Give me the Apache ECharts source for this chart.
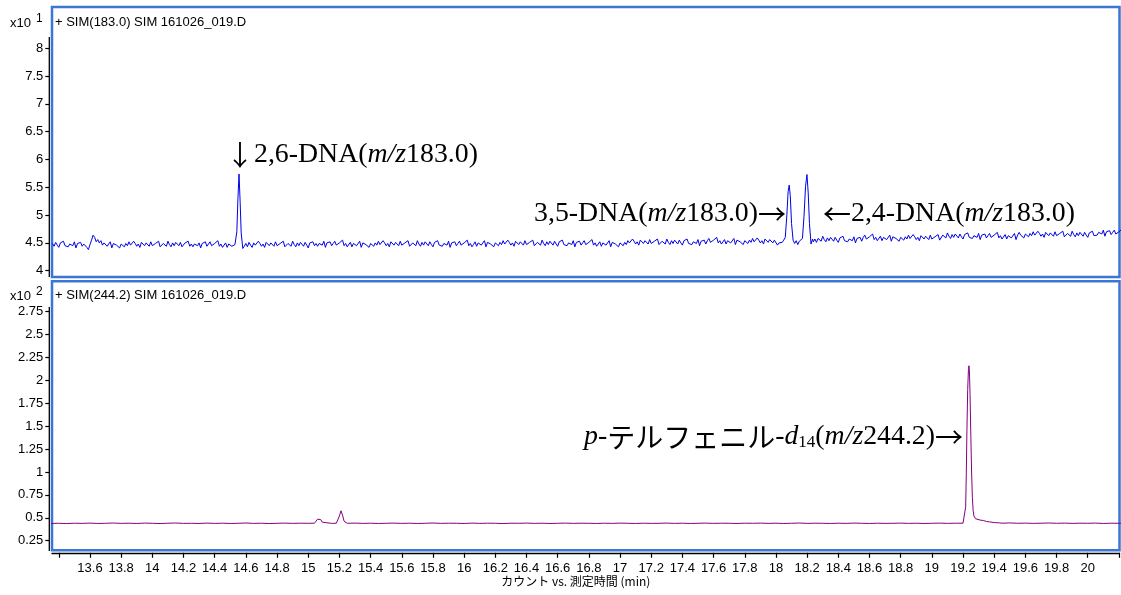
<!DOCTYPE html>
<html>
<head>
<meta charset="utf-8">
<script src="https://cdn.jsdelivr.net/npm/echarts@6/dist/echarts.min.js"></script>
<style>
  html, body { margin: 0; padding: 0; background: #ffffff; }
  #chart { width: 1121px; height: 595px; }
</style>
</head>
<body>
<div id="chart"></div>
<script>
// SIM m/z 183.0 trace: sampled every 0.01 min starting at 13.36 min (counts x10^1)
const sim183Start = 13.36;
const sim183Step = 0.01;
const sim183Base = [
  4.49, 4.44, 4.51, 4.46, 4.42, 4.50, 4.47, 4.53, 4.45, 4.48,
  4.43, 4.48, 4.50, 4.45, 4.52, 4.41, 4.49, 4.46, 4.51, 4.44,
  4.48, 4.45, 4.42, 4.38, 4.47, 4.55, 4.64, 4.60, 4.52, 4.56,
  4.50, 4.54, 4.46, 4.50, 4.51, 4.44, 4.46, 4.52, 4.41, 4.49,
  4.51, 4.46, 4.49, 4.41, 4.48, 4.50, 4.43, 4.49, 4.45, 4.52,
  4.46, 4.43, 4.53, 4.49, 4.44, 4.48, 4.42, 4.51, 4.48, 4.45,
  4.50, 4.48, 4.44, 4.52, 4.45, 4.42, 4.49, 4.46, 4.53, 4.43,
  4.42, 4.49, 4.48, 4.44, 4.53, 4.47, 4.43, 4.50, 4.45, 4.51,
  4.49, 4.45, 4.51, 4.43, 4.42, 4.50, 4.48, 4.53, 4.44, 4.48,
  4.43, 4.48, 4.51, 4.45, 4.50, 4.41, 4.49, 4.47, 4.52, 4.44,
  4.48, 4.52, 4.45, 4.43, 4.49, 4.46, 4.54, 4.44, 4.48, 4.42,
  4.45, 4.50, 4.42, 4.48, 4.51, 4.44, 4.46, 4.47, 4.47, 4.47,
  4.47, 4.47, 4.47, 4.44, 4.49, 4.43, 4.51, 4.46, 4.42, 4.50,
  4.46, 4.43, 4.53, 4.49, 4.44, 4.48, 4.42, 4.51, 4.48, 4.45,
  4.50, 4.48, 4.44, 4.52, 4.45, 4.42, 4.49, 4.46, 4.53, 4.43,
  4.42, 4.49, 4.48, 4.44, 4.53, 4.47, 4.43, 4.50, 4.45, 4.51,
  4.48, 4.44, 4.51, 4.46, 4.41, 4.50, 4.47, 4.52, 4.45, 4.49,
  4.44, 4.49, 4.51, 4.46, 4.53, 4.42, 4.50, 4.47, 4.52, 4.45,
  4.49, 4.53, 4.46, 4.44, 4.50, 4.47, 4.55, 4.45, 4.49, 4.43,
  4.46, 4.51, 4.43, 4.49, 4.52, 4.45, 4.47, 4.53, 4.42, 4.50,
  4.52, 4.47, 4.50, 4.42, 4.49, 4.51, 4.44, 4.50, 4.46, 4.53,
  4.47, 4.44, 4.54, 4.50, 4.45, 4.49, 4.43, 4.52, 4.49, 4.46,
  4.51, 4.49, 4.45, 4.53, 4.46, 4.43, 4.50, 4.47, 4.54, 4.44,
  4.43, 4.50, 4.49, 4.45, 4.54, 4.48, 4.44, 4.51, 4.46, 4.52,
  4.50, 4.45, 4.52, 4.47, 4.43, 4.51, 4.48, 4.54, 4.46, 4.49,
  4.44, 4.49, 4.51, 4.46, 4.53, 4.42, 4.50, 4.47, 4.52, 4.45,
  4.49, 4.53, 4.46, 4.44, 4.50, 4.47, 4.55, 4.45, 4.49, 4.43,
  4.47, 4.52, 4.44, 4.50, 4.53, 4.46, 4.48, 4.54, 4.43, 4.51,
  4.53, 4.48, 4.51, 4.43, 4.50, 4.52, 4.45, 4.51, 4.47, 4.54,
  4.48, 4.45, 4.55, 4.51, 4.46, 4.50, 4.44, 4.53, 4.50, 4.47,
  4.52, 4.50, 4.46, 4.54, 4.47, 4.44, 4.51, 4.48, 4.55, 4.45,
  4.44, 4.51, 4.50, 4.46, 4.55, 4.49, 4.45, 4.52, 4.47, 4.53,
  4.51, 4.46, 4.53, 4.48, 4.44, 4.52, 4.49, 4.55, 4.47, 4.50,
  4.45, 4.50, 4.52, 4.47, 4.54, 4.43, 4.51, 4.48, 4.53, 4.46,
  4.50, 4.54, 4.47, 4.45, 4.51, 4.48, 4.56, 4.46, 4.50, 4.44,
  4.47, 4.52, 4.44, 4.50, 4.53, 4.46, 4.48, 4.54, 4.43, 4.51,
  4.53, 4.48, 4.51, 4.43, 4.50, 4.52, 4.45, 4.51, 4.47, 4.54,
  4.50, 4.47, 4.57, 4.53, 4.48, 4.52, 4.46, 4.55, 4.52, 4.49,
  4.54, 4.52, 4.48, 4.56, 4.49, 4.46, 4.53, 4.50, 4.57, 4.47,
  4.46, 4.53, 4.52, 4.48, 4.57, 4.51, 4.47, 4.54, 4.49, 4.55,
  4.53, 4.48, 4.55, 4.50, 4.46, 4.54, 4.51, 4.57, 4.49, 4.52,
  4.47, 4.52, 4.54, 4.49, 4.56, 4.45, 4.53, 4.50, 4.55, 4.48,
  4.54, 4.58, 4.51, 4.49, 4.55, 4.52, 4.60, 4.50, 4.54, 4.48,
  4.51, 4.56, 4.48, 4.54, 4.57, 4.50, 4.52, 4.58, 4.47, 4.55,
  4.57, 4.52, 4.55, 4.47, 4.54, 4.56, 4.49, 4.55, 4.51, 4.58,
  4.52, 4.49, 4.59, 4.55, 4.50, 4.54, 4.48, 4.57, 4.54, 4.51,
  4.56, 4.54, 4.50, 4.55, 4.52, 4.46, 4.50, 4.53, 4.51, 4.55,
  4.55, 4.55, 4.55, 4.55, 4.55, 4.55, 4.55, 4.55, 4.55, 4.55,
  4.55, 4.55, 4.55, 4.55, 4.55, 4.55, 4.55, 4.55, 4.52, 4.57,
  4.51, 4.58, 4.57, 4.53, 4.62, 4.56, 4.52, 4.59, 4.54, 4.60,
  4.58, 4.53, 4.60, 4.55, 4.51, 4.59, 4.56, 4.62, 4.54, 4.57,
  4.52, 4.57, 4.59, 4.54, 4.61, 4.50, 4.58, 4.55, 4.60, 4.53,
  4.60, 4.64, 4.57, 4.55, 4.61, 4.58, 4.66, 4.56, 4.60, 4.54,
  4.57, 4.62, 4.54, 4.60, 4.63, 4.56, 4.58, 4.64, 4.53, 4.61,
  4.63, 4.58, 4.61, 4.53, 4.60, 4.62, 4.55, 4.61, 4.57, 4.64,
  4.58, 4.55, 4.65, 4.61, 4.56, 4.60, 4.54, 4.63, 4.60, 4.57,
  4.62, 4.60, 4.56, 4.64, 4.57, 4.54, 4.61, 4.58, 4.65, 4.55,
  4.57, 4.64, 4.63, 4.59, 4.68, 4.62, 4.58, 4.65, 4.60, 4.66,
  4.64, 4.59, 4.66, 4.61, 4.57, 4.65, 4.62, 4.68, 4.60, 4.63,
  4.58, 4.63, 4.65, 4.60, 4.67, 4.56, 4.64, 4.61, 4.66, 4.59,
  4.63, 4.67, 4.60, 4.58, 4.64, 4.61, 4.69, 4.59, 4.63, 4.57,
  4.60, 4.65, 4.57, 4.63, 4.66, 4.59, 4.61, 4.67, 4.56, 4.64,
  4.69, 4.64, 4.67, 4.59, 4.66, 4.68, 4.61, 4.67, 4.63, 4.70,
  4.64, 4.61, 4.71, 4.67, 4.62, 4.66, 4.60, 4.69, 4.66, 4.63,
  4.68, 4.66, 4.62, 4.70, 4.63, 4.60, 4.67, 4.64, 4.71, 4.61,
  4.60, 4.67, 4.66, 4.62, 4.71, 4.65, 4.61, 4.68, 4.63, 4.69,
  4.67, 4.62, 4.69, 4.64, 4.60, 4.68, 4.65, 4.71, 4.63, 4.66,
  4.64, 4.69, 4.71, 4.66, 4.73, 4.62, 4.70, 4.67, 4.72, 4.65,
  4.69, 4.73, 4.66, 4.64, 4.70, 4.67, 4.75
];
// Peaks on m/z 183.0, finer sampling [time (min), counts x10^1]
const peak26DNA = [
  [14.532, 4.46], [14.542, 4.70], [14.549, 5.30], [14.556, 5.74],
  [14.563, 5.25], [14.570, 4.68], [14.580, 4.40]
];
const peak35and24DNA = [
  [18.050, 4.55], [18.060, 4.60], [18.070, 5.00], [18.078, 5.42], [18.085, 5.54],
  [18.092, 5.35], [18.100, 4.85], [18.110, 4.55], [18.120, 4.49], [18.130, 4.54],
  [18.140, 4.47], [18.150, 4.53], [18.160, 4.50], [18.170, 4.58], [18.180, 4.98],
  [18.190, 5.52], [18.199, 5.73], [18.207, 5.40], [18.215, 4.85], [18.225, 4.48],
  [18.235, 4.57]
];

// SIM m/z 244.2 trace: sampled every 0.05 min starting at 13.35 min (counts x10^2)
const sim244Start = 13.35;
const sim244Step = 0.05;
const sim244Base = [
  0.438, 0.440, 0.437, 0.441, 0.439, 0.442, 0.438, 0.440, 0.443, 0.439,
  0.441, 0.438, 0.442, 0.440, 0.437, 0.441, 0.443, 0.439, 0.440, 0.438,
  0.442, 0.439, 0.441, 0.438, 0.440, 0.443, 0.439, 0.441, 0.437, 0.440,
  0.442, 0.439, 0.441, 0.440, 0.440, 0.441, 0.439, 0.440, 0.440, 0.442,
  0.439, 0.441, 0.438, 0.440, 0.442, 0.439, 0.441, 0.438, 0.440, 0.443,
  0.439, 0.441, 0.440, 0.438, 0.442, 0.439, 0.441, 0.440, 0.437, 0.441,
  0.440, 0.442, 0.439, 0.441, 0.438, 0.440, 0.442, 0.439, 0.441, 0.440,
  0.438, 0.441, 0.439, 0.442, 0.440, 0.438, 0.441, 0.439, 0.440, 0.442,
  0.439, 0.441, 0.438, 0.440, 0.442, 0.439, 0.441, 0.440, 0.438, 0.441,
  0.440, 0.442, 0.439, 0.441, 0.438, 0.440, 0.443, 0.439, 0.441, 0.440,
  0.438, 0.441, 0.439, 0.442, 0.440, 0.438, 0.441, 0.439, 0.440, 0.442,
  0.439, 0.441, 0.438, 0.440, 0.442, 0.439, 0.441, 0.440, 0.460, 0.470,
  0.450, 0.443, 0.441, 0.444, 0.440, 0.442, 0.439, 0.441, 0.443, 0.440,
  0.442, 0.439, 0.441, 0.440, 0.442, 0.438, 0.441, 0.440, 0.442
];
// Peaks on m/z 244.2 [time (min), counts x10^2]
const peak244a = [
  [15.040, 0.441], [15.050, 0.450], [15.060, 0.485], [15.070, 0.500],
  [15.080, 0.480], [15.090, 0.452], [15.100, 0.441]
];
const peak244b = [
  [15.180, 0.440], [15.190, 0.452], [15.200, 0.520], [15.210, 0.577],
  [15.220, 0.530], [15.230, 0.462], [15.240, 0.442]
];
const peakTerphenyl = [
  [19.200, 0.441], [19.212, 0.450], [19.217, 0.620], [19.221, 0.980],
  [19.225, 1.450], [19.230, 1.900], [19.235, 2.130], [19.238, 2.160],
  [19.241, 2.110], [19.245, 1.850], [19.250, 1.400], [19.255, 1.000],
  [19.260, 0.720], [19.265, 0.580], [19.270, 0.520], [19.280, 0.490],
  [19.290, 0.480], [19.310, 0.475], [19.330, 0.470], [19.350, 0.460],
  [19.370, 0.455], [19.400, 0.448], [19.430, 0.445]
];

// Axis ticks and labels
const timeTicks = [13.4, 13.6, 13.8, 14, 14.2, 14.4, 14.6, 14.8, 15, 15.2, 15.4, 15.6, 15.8,
  16, 16.2, 16.4, 16.6, 16.8, 17, 17.2, 17.4, 17.6, 17.8, 18, 18.2, 18.4, 18.6, 18.8,
  19, 19.2, 19.4, 19.6, 19.8, 20, 20.2];
const timeLabels = [13.6, 13.8, 14, 14.2, 14.4, 14.6, 14.8, 15, 15.2, 15.4, 15.6, 15.8,
  16, 16.2, 16.4, 16.6, 16.8, 17, 17.2, 17.4, 17.6, 17.8, 18, 18.2, 18.4, 18.6, 18.8,
  19, 19.2, 19.4, 19.6, 19.8, 20];
const ticks183 = [4, 4.5, 5, 5.5, 6, 6.5, 7, 7.5, 8];
const ticks244 = [0.25, 0.5, 0.75, 1, 1.25, 1.5, 1.75, 2, 2.25, 2.5, 2.75];

// Merge a regularly sampled baseline with finely sampled peak segments
function buildTrace(start, step, base, peaks) {
  const pts = [];
  base.forEach((v, i) => {
    const t = +(start + i * step).toFixed(4);
    const covered = peaks.some(p => t >= p[0][0] && t <= p[p.length - 1][0]);
    if (!covered) pts.push([t, v]);
  });
  peaks.forEach(p => p.forEach(q => pts.push(q)));
  pts.sort((a, b) => a[0] - b[0]);
  return pts;
}

const trace183 = buildTrace(sim183Start, sim183Step, sim183Base, [peak26DNA, peak35and24DNA]);
const trace244 = buildTrace(sim244Start, sim244Step, sim244Base, [peak244a, peak244b, peakTerphenyl]);

const FRAME = '#3a76d6';
const SANS = '"Liberation Sans", Arial, sans-serif';
const SERIF = '"Liberation Serif", "Times New Roman", serif';
const JP = '"Noto Sans CJK JP", sans-serif';
const X_MIN = 13.3564, X_MAX = 20.2037;
const ANNO_SIZE = 27.8;

const chart = echarts.init(document.getElementById('chart'), null, { renderer: 'canvas' });

function yAxisFor(grid, min, max, ticks) {
  return {
    type: 'value', gridIndex: grid, min: min, max: max, offset: 2.7,
    axisLine: { show: false },
    axisTick: { show: true, length: 4, customValues: ticks, lineStyle: { color: '#000', width: 1.2 } },
    axisLabel: { customValues: ticks, margin: 6, fontSize: 13, color: '#000', fontFamily: SANS },
    splitLine: { show: false }
  };
}

const annoRich = {
  i: { fontStyle: 'italic', fontSize: ANNO_SIZE, fontFamily: SERIF, color: '#000' },
  a: { fontSize: 28, fontFamily: JP, color: '#000' },
  j: { fontSize: 28, fontFamily: JP, color: '#000' },
  s: { fontSize: 17, fontFamily: SERIF, color: '#000', verticalAlign: 'bottom', lineHeight: 12 }
};

function anno(text, x, y, align) {
  return {
    type: 'text', x: x, y: y, z: 10,
    style: {
      text: text, rich: annoRich, align: align, verticalAlign: 'middle',
      font: ANNO_SIZE + 'px ' + SERIF, fill: '#000'
    }
  };
}

function plain(text, x, y, size) {
  return {
    type: 'text', x: x, y: y, z: 10,
    style: { text: text, font: size + 'px ' + SANS, fill: '#000', verticalAlign: 'middle' }
  };
}

chart.setOption({
  animation: false,
  backgroundColor: '#ffffff',
  grid: [
    { left: 52, top: 7, width: 1067.5, height: 270, show: true, borderColor: FRAME, borderWidth: 2.5, backgroundColor: 'transparent' },
    { left: 52, top: 281.2, width: 1067.5, height: 269.1, show: true, borderColor: FRAME, borderWidth: 2.5, backgroundColor: 'transparent' }
  ],
  xAxis: [
    { type: 'value', gridIndex: 0, min: X_MIN, max: X_MAX, show: false },
    {
      type: 'value', gridIndex: 1, min: X_MIN, max: X_MAX, offset: 2.5,
      axisLine: { show: true, onZero: false, lineStyle: { color: '#000', width: 1.3 } },
      axisTick: { show: true, length: 5, customValues: timeTicks, lineStyle: { color: '#000', width: 1.2 } },
      axisLabel: { customValues: timeLabels, margin: 9, fontSize: 13, color: '#000', fontFamily: SANS },
      splitLine: { show: false },
      name: 'カウント vs. 測定時間 (min)', nameLocation: 'middle', nameGap: 22,
      nameTextStyle: { fontSize: 12, color: '#000', fontFamily: JP, padding: [0, 20, 0, 0] }
    }
  ],
  yAxis: [
    yAxisFor(0, 3.887, 8.743, ticks183),
    yAxisFor(1, 0.145, 3.083, ticks244)
  ],
  series: [
    {
      name: 'SIM(183.0)', type: 'line', xAxisIndex: 0, yAxisIndex: 0, data: trace183,
      showSymbol: false, symbol: 'none', clip: true,
      lineStyle: { color: '#0000e6', width: 1 }
    },
    {
      name: 'SIM(244.2)', type: 'line', xAxisIndex: 1, yAxisIndex: 1, data: trace244,
      showSymbol: false, symbol: 'none', clip: true,
      lineStyle: { color: '#800080', width: 1 }
    }
  ],
  graphic: [
    // vertical value-axis lines
    { type: 'line', shape: { x1: 49.3, y1: 37, x2: 49.3, y2: 277 }, style: { stroke: '#000', lineWidth: 1.3 } },
    { type: 'line', shape: { x1: 49.3, y1: 307, x2: 49.3, y2: 551 }, style: { stroke: '#000', lineWidth: 1.3 } },
    // scale factors and trace titles
    plain('x10', 10, 23, 13), plain('1', 36, 18.5, 12),
    plain('+ SIM(183.0) SIM 161026_019.D', 55, 22.7, 13),
    plain('x10', 10, 296, 13), plain('2', 36, 291.5, 12),
    plain('+ SIM(244.2) SIM 161026_019.D', 55, 295.7, 13),
    // compound annotations
    anno('{a|↓}2,6-DNA({i|m/z}183.0)', 226, 155, 'left'),
    anno('3,5-DNA({i|m/z}183.0){a|→}', 786, 214, 'right'),
    anno('{a|←}2,4-DNA({i|m/z}183.0)', 823, 214, 'left'),
    anno('{i|p}-{j|テルフェニル}-{i|d}{s|14}({i|m/z}244.2){a|→}', 963, 437, 'right')
  ]
});
</script>
</body>
</html>
